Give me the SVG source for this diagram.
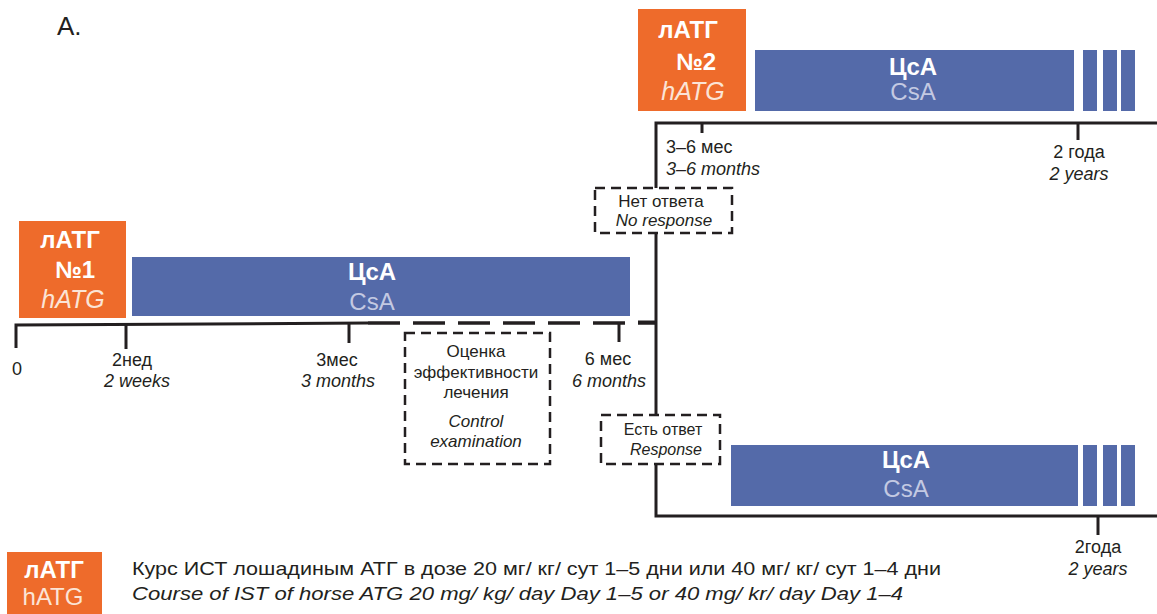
<svg xmlns="http://www.w3.org/2000/svg" width="1157" height="614" viewBox="0 0 1157 614">
<style>
  text { font-family: "Liberation Sans", "Noto Sans", Arial, sans-serif; fill: #231f20; }
  .orange { fill: #ee6b2b; }
  .blue { fill: #546aa9; }
  .wb { fill: #ffffff; font-weight: bold; font-size: 24px; }
  .pale { fill: #fbe4d6; font-size: 25px; }
  .csa { fill: #c3c9e2; font-size: 24px; }
  .lbl { font-size: 18px; }
  .box { font-size: 17px; }
  .it { font-style: italic; }
  .line { fill: none; stroke: #231f20; stroke-width: 3; }
  .dash { fill: none; stroke: #231f20; stroke-width: 3.5; stroke-dasharray: 32 13; }
  .dbox { fill: none; stroke: #231f20; stroke-width: 2.5; stroke-dasharray: 10 6; }
  .mid { text-anchor: middle; }
</style>

<text x="57" y="35" style="font-size:26px">A.</text>

<g id="connectors">
  <polyline class="line" points="16,348 16,325 368,323"/>
  <line class="line" x1="126" y1="323" x2="126" y2="349"/>
  <line class="line" x1="349" y1="323" x2="349" y2="343"/>
  <line class="dash" x1="368" y1="323" x2="656" y2="323"/>
  <line class="line" x1="619" y1="323" x2="619" y2="342"/>
  <line class="line" x1="638" y1="322" x2="656" y2="322"/>
  <line class="line" x1="656" y1="233" x2="656" y2="415"/>
  <polyline class="line" points="656,188 656,123 1157,123"/>
  <line class="line" x1="702" y1="123" x2="702" y2="133"/>
  <line class="line" x1="1078" y1="123" x2="1078" y2="140"/>
  <polyline class="line" points="656,464 656,516 1157,516"/>
  <line class="line" x1="1098" y1="516" x2="1098" y2="535"/>
</g>

<g id="hatg1">
  <rect class="orange" x="19" y="221" width="107" height="97"/>
  <text class="wb mid" x="70" y="248">лАТГ</text>
  <text class="wb mid" x="75" y="278">№1</text>
  <text class="pale it mid" x="73" y="308">hATG</text>
</g>

<g id="csa1">
  <rect class="blue" x="132" y="257" width="498" height="59"/>
  <text class="wb mid" x="372" y="280">ЦсА</text>
  <text class="csa mid" x="372" y="310">CsA</text>
</g>

<g id="ticks1">
  <text class="lbl mid" x="17" y="375">0</text>
  <text class="lbl mid" x="132" y="366">2нед</text>
  <text class="lbl it mid" x="137" y="387">2 weeks</text>
  <text class="lbl mid" x="337" y="366">3мес</text>
  <text class="lbl it mid" x="338" y="387">3 months</text>
  <text class="lbl mid" x="608" y="365">6 мес</text>
  <text class="lbl it mid" x="609" y="387">6 months</text>
</g>

<g id="control">
  <rect class="dbox" x="405" y="333" width="145" height="131"/>
  <text class="box mid" x="476" y="357">Оценка</text>
  <text class="box mid" x="476" y="378">эффективности</text>
  <text class="box mid" x="476" y="398">лечения</text>
  <text class="box it mid" x="476" y="427">Control</text>
  <text class="box it mid" x="476" y="447">examination</text>
</g>

<g id="noresponse">
  <rect class="dbox" x="595" y="188" width="137" height="45"/>
  <text class="box mid" x="661" y="207">Нет ответа</text>
  <text class="box it mid" x="664" y="226">No response</text>
</g>

<g id="response">
  <rect class="dbox" x="601" y="415" width="119" height="49"/>
  <text class="mid" x="663" y="435" style="font-size:16px">Есть ответ</text>
  <text class="it mid" x="666" y="455" style="font-size:16px">Response</text>
</g>

<g id="hatg2">
  <rect class="orange" x="638" y="9" width="108" height="102"/>
  <text class="wb mid" x="688" y="38">лАТГ</text>
  <text class="wb mid" x="696" y="70">№2</text>
  <text class="pale it mid" x="693" y="100">hATG</text>
</g>

<g id="csa2">
  <rect class="blue" x="755" y="50" width="319" height="61"/>
  <rect class="blue" x="1083" y="50" width="14" height="61"/>
  <rect class="blue" x="1103" y="50" width="14" height="61"/>
  <rect class="blue" x="1121" y="50" width="14" height="61"/>
  <text class="wb mid" x="913" y="75">ЦсА</text>
  <text class="csa mid" x="913" y="100">CsA</text>
</g>

<g id="ticks2">
  <text class="lbl" x="666" y="153">3–6 мес</text>
  <text class="lbl it" x="666" y="175">3–6 months</text>
  <text class="lbl mid" x="1079" y="158">2 года</text>
  <text class="lbl it mid" x="1079" y="180">2 years</text>
</g>

<g id="csa3">
  <rect class="blue" x="731" y="445" width="347" height="61"/>
  <rect class="blue" x="1083" y="445" width="14" height="61"/>
  <rect class="blue" x="1103" y="445" width="14" height="61"/>
  <rect class="blue" x="1121" y="445" width="14" height="61"/>
  <text class="wb mid" x="906" y="468">ЦсА</text>
  <text class="csa mid" x="906" y="497">CsA</text>
</g>

<g id="ticks3">
  <text class="lbl mid" x="1098" y="553">2года</text>
  <text class="lbl it mid" x="1098" y="575">2 years</text>
</g>

<g id="legend">
  <rect class="orange" x="7" y="552" width="95" height="62"/>
  <text class="wb mid" x="54" y="578">лАТГ</text>
  <text class="pale mid" x="53" y="605" style="font-size:24px">hATG</text>
  <text x="132" y="575" style="font-size:19px" textLength="809" lengthAdjust="spacingAndGlyphs">Курс ИСТ лошадиным АТГ в дозе 20 мг/ кг/ сут 1–5 дни или 40 мг/ кг/ сут 1–4 дни</text>
  <text class="it" x="132" y="600" style="font-size:19px" textLength="771" lengthAdjust="spacingAndGlyphs">Course of IST of horse ATG 20 mg/ kg/ day Day 1–5 or 40 mg/ kr/ day Day 1–4</text>
</g>
</svg>
